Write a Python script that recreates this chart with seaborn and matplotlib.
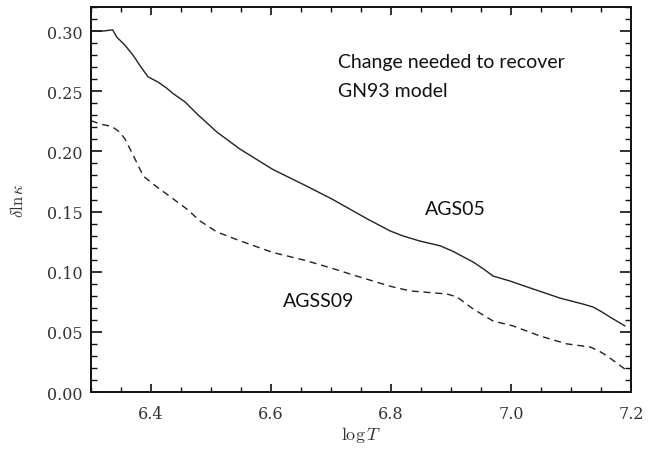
import matplotlib
matplotlib.use("Agg")
import matplotlib.pyplot as plt
from matplotlib.ticker import MultipleLocator
import numpy as np
import pandas as pd
import seaborn as sns

# opacity change needed to recover the GN93 model, AGS05 mixture
logT_ags05 = [6.300, 6.320, 6.336, 6.343, 6.357, 6.370, 6.382, 6.395, 6.412, 6.425,
              6.437, 6.457, 6.477, 6.510, 6.548, 6.603, 6.660, 6.703, 6.760, 6.798,
              6.820, 6.848, 6.882, 6.903, 6.920, 6.937, 6.955, 6.970, 6.998, 7.037,
              7.082, 7.120, 7.137, 7.150, 7.165, 7.190]
dlnk_ags05 = [0.300, 0.300, 0.301, 0.295, 0.288, 0.280, 0.271, 0.262, 0.2575, 0.253,
              0.248, 0.241, 0.231, 0.216, 0.202, 0.185, 0.171, 0.160, 0.144, 0.134,
              0.1297, 0.1255, 0.1215, 0.117, 0.1125, 0.108, 0.102, 0.0964, 0.0923, 0.0856,
              0.078, 0.0731, 0.0706, 0.067, 0.0623, 0.0549]

# same for the AGSS09 mixture
logT_agss09 = [6.300, 6.315, 6.335, 6.348, 6.357, 6.365, 6.376, 6.387, 6.403, 6.437,
               6.460, 6.482, 6.510, 6.548, 6.603, 6.660, 6.715, 6.732, 6.798, 6.832,
               6.893, 6.910, 6.937, 6.970, 7.003, 7.048, 7.093, 7.132, 7.147, 7.160,
               7.190]
dlnk_agss09 = [0.2255, 0.2228, 0.2206, 0.216, 0.210, 0.202, 0.191, 0.1796, 0.173, 0.1605,
               0.152, 0.142, 0.133, 0.1257, 0.116, 0.109, 0.1008, 0.098, 0.088, 0.084,
               0.0815, 0.079, 0.069, 0.059, 0.055, 0.0466, 0.040, 0.0374, 0.034, 0.030,
               0.019]

x_ticks = [6.4, 6.6, 6.8, 7.0, 7.2]
y_ticks = [0.00, 0.05, 0.10, 0.15, 0.20, 0.25, 0.30]

df = pd.concat([
    pd.DataFrame({"logT": logT_ags05, "dlnk": dlnk_ags05, "mix": "AGS05"}),
    pd.DataFrame({"logT": logT_agss09, "dlnk": dlnk_agss09, "mix": "AGSS09"}),
], ignore_index=True)

sns.set_style("ticks")
plt.rcParams["font.family"] = ["DejaVu Serif"]
plt.rcParams["mathtext.fontset"] = "cm"

fig = plt.figure(figsize=(6.5, 4.52), dpi=100)
ax = fig.add_axes([0.140, 0.1305, 0.8308, 0.8518])

sns.lineplot(data=df, x="logT", y="dlnk", style="mix", dashes={"AGS05": "", "AGSS09": (5, 3.5)},
             color="#222222", linewidth=1.0, legend=False, ax=ax, sort=False)

ax.set_xlim(6.3, 7.2)
ax.set_ylim(0.0, 0.32)
ax.set_xticks(x_ticks)
ax.set_yticks(y_ticks)
ax.set_xticklabels([f"{v:.1f}" for v in x_ticks])
ax.set_yticklabels([f"{v:.2f}" for v in y_ticks])
ax.xaxis.set_minor_locator(MultipleLocator(0.05))
ax.yaxis.set_minor_locator(MultipleLocator(0.01))

ax.tick_params(axis="both", which="both", direction="in", top=True, right=True,
               color="#111111", labelcolor="#333333", labelsize=11.5)
ax.tick_params(axis="x", which="major", length=6, width=1.2, pad=9)
ax.tick_params(axis="x", which="minor", length=3.5, width=1.0)
ax.tick_params(axis="y", which="major", length=8, width=1.2, pad=6)
ax.tick_params(axis="y", which="minor", length=4.5, width=1.0)
for s in ax.spines.values():
    s.set_linewidth(1.4)
    s.set_color("#111111")

ax.set_xlabel(r"$\log T$", fontsize=13, color="#333333", labelpad=2)
ax.set_ylabel(r"$\delta\ln\kappa$", fontsize=12, color="#333333", labelpad=14)

txt = dict(family=["Lato", "DejaVu Sans"], fontsize=14, color="#111111", ha="left", va="baseline")
ax.text(6.7117, 0.2702, "Change needed to recover", **txt)
ax.text(6.7117, 0.2463, "GN93 model", **txt)
ax.text(6.8567, 0.148, "AGS05", **txt)
ax.text(6.620, 0.0715, "AGSS09", **txt)

fig.savefig("out.png", dpi=100)
